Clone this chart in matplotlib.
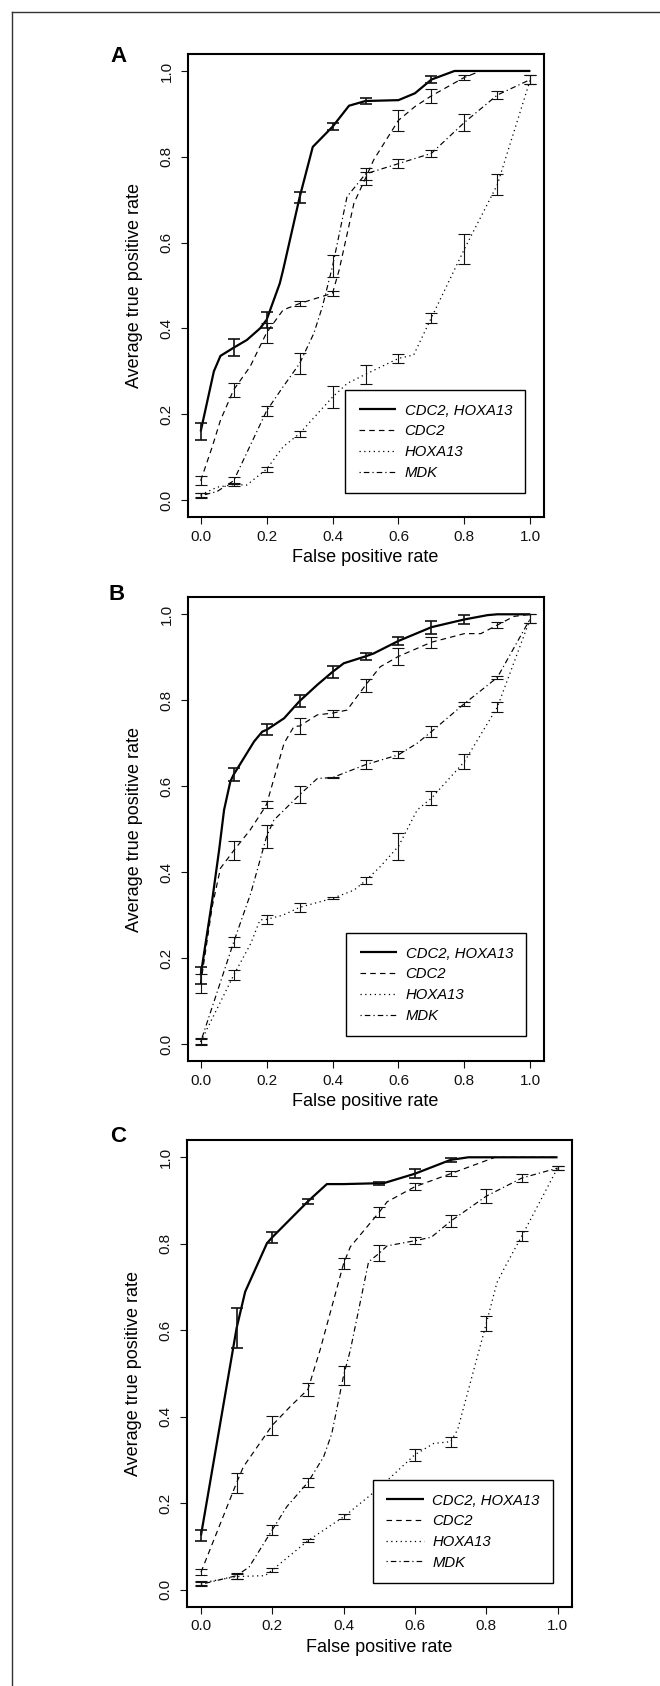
import numpy as np
import matplotlib
matplotlib.use("Agg")
import matplotlib.pyplot as plt
from matplotlib.lines import Line2D
from matplotlib.ticker import FormatStrFormatter

plt.rcParams["font.family"] = ["Liberation Sans", "DejaVu Sans"]
plt.rcParams["lines.scale_dashes"] = False

# error bars are drawn at these false positive rates
GRID = [0.0, 0.1, 0.2, 0.3, 0.4, 0.5, 0.6, 0.7, 0.8, 0.9, 1.0]
LABELS = ["CDC2, HOXA13", "CDC2", "HOXA13", "MDK"]

# ---- panel A ----
a_combo_fpr = [0, 0.04, 0.06, 0.1, 0.14, 0.18, 0.2, 0.24, 0.25, 0.3, 0.34, 0.4, 0.45, 0.5, 0.6, 0.65, 0.7, 0.77, 0.8, 0.9, 1.0]
a_combo_tpr = [0.16, 0.30, 0.336, 0.355, 0.373, 0.40, 0.42, 0.505, 0.536, 0.705, 0.823, 0.87, 0.919, 0.93, 0.932, 0.948, 0.98, 1.0, 1.0, 1.0, 1.0]
a_combo_err = [0.02, 0.02, 0.018, 0.012, 0.008, 0.006, 0, 0.008, 0, 0, 0]

a_cdc2_fpr = [0, 0.035, 0.06, 0.1, 0.15, 0.2, 0.25, 0.3, 0.4, 0.42, 0.465, 0.5, 0.525, 0.6, 0.65, 0.7, 0.8, 0.85, 0.9, 1.0]
a_cdc2_tpr = [0.045, 0.124, 0.186, 0.257, 0.311, 0.39, 0.443, 0.458, 0.482, 0.536, 0.692, 0.75, 0.793, 0.885, 0.917, 0.942, 0.985, 1.0, 1.0, 1.0]
a_cdc2_err = [0.01, 0.016, 0.023, 0.006, 0.006, 0.015, 0.025, 0.016, 0.005, 0, 0]

a_hoxa_fpr = [0, 0.05, 0.1, 0.14, 0.2, 0.25, 0.3, 0.4, 0.445, 0.5, 0.6, 0.646, 0.7, 0.8, 0.9, 1.0]
a_hoxa_tpr = [0.012, 0.03, 0.036, 0.035, 0.072, 0.124, 0.155, 0.24, 0.272, 0.293, 0.33, 0.338, 0.425, 0.585, 0.735, 0.98]
a_hoxa_err = [0.005, 0.004, 0.006, 0.007, 0.025, 0.022, 0.01, 0.012, 0.035, 0.025, 0.01]

a_mdk_fpr = [0, 0.05, 0.1, 0.2, 0.25, 0.3, 0.343, 0.369, 0.4, 0.444, 0.5, 0.6, 0.7, 0.8, 0.9, 1.0]
a_mdk_tpr = [0.01, 0.02, 0.045, 0.208, 0.264, 0.318, 0.388, 0.45, 0.545, 0.707, 0.76, 0.784, 0.808, 0.88, 0.944, 0.98]
a_mdk_err = [0.006, 0.008, 0.012, 0.025, 0.025, 0.013, 0.01, 0.008, 0.02, 0.009, 0.01]

# ---- panel B ----
b_combo_fpr = [0, 0.035, 0.056, 0.071, 0.09, 0.1, 0.121, 0.162, 0.187, 0.2, 0.253, 0.3, 0.354, 0.4, 0.434, 0.5, 0.525, 0.6, 0.7, 0.8, 0.87, 0.9, 1.0]
b_combo_tpr = [0.16, 0.335, 0.452, 0.545, 0.611, 0.627, 0.653, 0.704, 0.727, 0.731, 0.758, 0.798, 0.836, 0.866, 0.886, 0.902, 0.909, 0.938, 0.97, 0.988, 0.998, 1.0, 1.0]
b_combo_err = [0.02, 0.016, 0.013, 0.014, 0.014, 0.008, 0.01, 0.015, 0.01, 0, 0]

b_cdc2_fpr = [0, 0.035, 0.06, 0.1, 0.15, 0.19, 0.2, 0.253, 0.283, 0.3, 0.354, 0.4, 0.444, 0.5, 0.545, 0.6, 0.7, 0.8, 0.85, 0.9, 0.95, 1.0]
b_cdc2_tpr = [0.14, 0.32, 0.409, 0.45, 0.498, 0.545, 0.558, 0.70, 0.739, 0.74, 0.766, 0.77, 0.777, 0.835, 0.878, 0.902, 0.935, 0.955, 0.955, 0.975, 0.995, 1.0]
b_cdc2_err = [0.022, 0.022, 0.008, 0.018, 0.008, 0.015, 0.02, 0.013, 0, 0.006, 0]

b_hoxa_fpr = [0, 0.1, 0.152, 0.18, 0.2, 0.25, 0.3, 0.4, 0.465, 0.5, 0.545, 0.6, 0.657, 0.7, 0.8, 0.9, 1.0]
b_hoxa_tpr = [0.005, 0.16, 0.234, 0.289, 0.29, 0.30, 0.318, 0.339, 0.358, 0.38, 0.413, 0.46, 0.545, 0.572, 0.657, 0.784, 0.99]
b_hoxa_err = [0.006, 0.012, 0.01, 0.01, 0.002, 0.008, 0.032, 0.016, 0.018, 0.012, 0.01]

b_mdk_fpr = [0, 0.1, 0.152, 0.2, 0.222, 0.3, 0.354, 0.4, 0.5, 0.6, 0.657, 0.7, 0.8, 0.9, 1.0]
b_mdk_tpr = [0.005, 0.237, 0.351, 0.483, 0.521, 0.58, 0.618, 0.62, 0.65, 0.673, 0.7, 0.727, 0.792, 0.853, 0.99]
b_mdk_err = [0.008, 0.012, 0.027, 0.02, 0.002, 0.01, 0.008, 0.012, 0.005, 0.003, 0.01]

# ---- panel C ----
c_combo_fpr = [0, 0.1, 0.124, 0.185, 0.2, 0.3, 0.353, 0.4, 0.5, 0.512, 0.6, 0.7, 0.75, 0.8, 0.9, 1.0]
c_combo_tpr = [0.125, 0.605, 0.689, 0.801, 0.815, 0.898, 0.938, 0.938, 0.94, 0.94, 0.962, 0.994, 1.0, 1.0, 1.0, 1.0]
c_combo_err = [0.012, 0.047, 0.013, 0.005, 0, 0.003, 0.01, 0.005, 0, 0, 0]

c_cdc2_fpr = [0, 0.1, 0.119, 0.2, 0.25, 0.3, 0.334, 0.4, 0.419, 0.5, 0.522, 0.6, 0.7, 0.825, 0.9, 1.0]
c_cdc2_tpr = [0.04, 0.247, 0.284, 0.38, 0.423, 0.463, 0.554, 0.754, 0.793, 0.873, 0.897, 0.932, 0.962, 1.0, 1.0, 1.0]
c_cdc2_err = [0.007, 0.023, 0.022, 0.015, 0.013, 0.012, 0.008, 0.006, 0, 0, 0]

c_hoxa_fpr = [0, 0.1, 0.18, 0.2, 0.3, 0.4, 0.5, 0.6, 0.653, 0.7, 0.72, 0.8, 0.83, 0.855, 0.9, 1.0]
c_hoxa_tpr = [0.015, 0.03, 0.032, 0.045, 0.113, 0.168, 0.235, 0.312, 0.338, 0.342, 0.37, 0.615, 0.71, 0.75, 0.818, 0.975]
c_hoxa_err = [0.005, 0.006, 0.004, 0.003, 0.006, 0, 0.014, 0.012, 0.018, 0.012, 0.005]

c_mdk_fpr = [0, 0.1, 0.135, 0.2, 0.241, 0.3, 0.344, 0.367, 0.4, 0.419, 0.47, 0.5, 0.522, 0.6, 0.646, 0.7, 0.8, 0.9, 1.0]
c_mdk_tpr = [0.012, 0.032, 0.052, 0.138, 0.192, 0.248, 0.307, 0.361, 0.495, 0.554, 0.758, 0.778, 0.795, 0.807, 0.815, 0.852, 0.91, 0.952, 0.975]
c_mdk_err = [0.005, 0.007, 0.012, 0.01, 0.021, 0.019, 0.008, 0.014, 0.016, 0.009, 0.005]

STYLES = [
    dict(lw=1.6, ls="-"),
    dict(lw=0.85, dashes=(4.0, 3.0)),
    dict(lw=0.9, dashes=(0.9, 2.5)),
    dict(lw=0.85, dashes=(0.9, 2.2, 4.0, 2.2)),
]
BAR_LW = [1.2, 0.8, 0.8, 0.8]

W, H = 660, 1686


def px_axes(fig, left, top, right, bottom):
    return fig.add_axes([left / W, 1 - bottom / H, (right - left) / W, (bottom - top) / H])


def draw_panel(ax, series, leg_anchor):
    handles = []
    for i, (fpr, tpr, err) in enumerate(series):
        (ln,) = ax.plot(fpr, tpr, color="black", solid_capstyle="butt", **STYLES[i])
        handles.append(ln)
        fpr_arr = np.array(fpr)
        bx, by, be = [], [], []
        for g, e in zip(GRID, err):
            if e <= 0:
                continue
            k = int(np.argmin(np.abs(fpr_arr - g)))
            bx.append(g)
            by.append(tpr[k])
            be.append(e)
        ax.errorbar(bx, by, yerr=be, fmt="none", ecolor="#111111",
                    elinewidth=BAR_LW[i], capsize=4.2, capthick=BAR_LW[i])

    ax.set_xlim(-0.04, 1.04)
    ax.set_ylim(-0.04, 1.04)
    ax.set_xticks([0, 0.2, 0.4, 0.6, 0.8, 1.0])
    ax.set_yticks([0, 0.2, 0.4, 0.6, 0.8, 1.0])
    ax.xaxis.set_major_formatter(FormatStrFormatter("%.1f"))
    ax.yaxis.set_major_formatter(FormatStrFormatter("%.1f"))
    ax.tick_params(direction="out", length=5, width=0.8, labelsize=11, colors="#111111")
    ax.tick_params(axis="x", pad=4)
    ax.tick_params(axis="y", pad=5, labelrotation=90)
    for lab in ax.get_yticklabels():
        lab.set_va("center")
    for sp in ax.spines.values():
        sp.set_linewidth(1.5)
    ax.set_xlabel("False positive rate", fontsize=13, labelpad=4)
    ax.set_ylabel("Average true positive rate", fontsize=13, labelpad=12)

    leg = ax.legend(handles, LABELS, loc="lower right", bbox_to_anchor=leg_anchor,
                    borderaxespad=0, prop={"style": "italic", "size": 10.7},
                    handlelength=2.55, handletextpad=0.55, borderpad=0.9,
                    labelspacing=0.45, fancybox=False, framealpha=1,
                    edgecolor="black")
    leg.get_frame().set_linewidth(1.0)
    leg.set_zorder(10)


fig = plt.figure(figsize=(W / 100, H / 100), dpi=100)

ax_a = px_axes(fig, 187.5, 53.8, 543.5, 517.2)
draw_panel(ax_a, [(a_combo_fpr, a_combo_tpr, a_combo_err),
                  (a_cdc2_fpr, a_cdc2_tpr, a_cdc2_err),
                  (a_hoxa_fpr, a_hoxa_tpr, a_hoxa_err),
                  (a_mdk_fpr, a_mdk_tpr, a_mdk_err)], (0.949, 0.052))

ax_b = px_axes(fig, 187.5, 597.1, 543.5, 1061.2)
draw_panel(ax_b, [(b_combo_fpr, b_combo_tpr, b_combo_err),
                  (b_cdc2_fpr, b_cdc2_tpr, b_cdc2_err),
                  (b_hoxa_fpr, b_hoxa_tpr, b_hoxa_err),
                  (b_mdk_fpr, b_mdk_tpr, b_mdk_err)], (0.952, 0.054))

ax_c = px_axes(fig, 186.7, 1140.0, 571.8, 1606.8)
draw_panel(ax_c, [(c_combo_fpr, c_combo_tpr, c_combo_err),
                  (c_cdc2_fpr, c_cdc2_tpr, c_cdc2_err),
                  (c_hoxa_fpr, c_hoxa_tpr, c_hoxa_err),
                  (c_mdk_fpr, c_mdk_tpr, c_mdk_err)], (0.951, 0.051))

for letter, (x, y) in zip("ABC", [(118, 56), (117, 595), (118, 1137)]):
    fig.text(x / W, 1 - y / H, letter, ha="center", va="center",
             fontsize=16, fontweight="bold")

# page frame (left and top edges only)
fig.add_artist(Line2D([12 / W, 12 / W], [0, 1 - 12 / H], transform=fig.transFigure,
                      color="#333333", lw=1.0))
fig.add_artist(Line2D([12 / W, 1], [1 - 12 / H, 1 - 12 / H], transform=fig.transFigure,
                      color="#333333", lw=1.0))

fig.savefig("out.png", dpi=100)
